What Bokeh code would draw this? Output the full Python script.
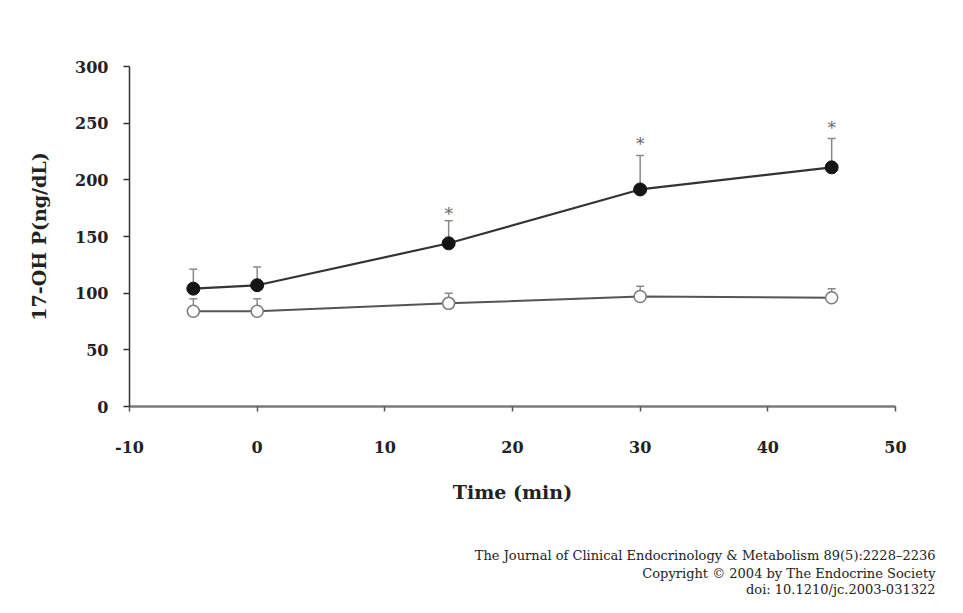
from bokeh.plotting import figure
from bokeh.models import ColumnDataSource, Whisker, TeeHead, Title, FixedTicker, Range1d
from bokeh.core.properties import value
from bokeh.embed import file_html
from bokeh.resources import INLINE

# Data
time = [-5, 0, 15, 30, 45]
stim_mean = [104, 107, 144, 191.5, 211]
stim_upper = [121, 123, 164, 221.5, 236.5]
ctrl_mean = [84, 84, 91, 97, 96]
ctrl_upper = [95, 95, 100, 106, 104]
star_x = [15, 30, 45]
star_y = [170, 232, 246]
x_ticks = [-10, 0, 10, 20, 30, 40, 50]
y_ticks = [0, 50, 100, 150, 200, 250, 300]
footer = [
    "The Journal of Clinical Endocrinology & Metabolism 89(5):2228\u20132236",
    "Copyright \u00a9 2004 by The Endocrine Society",
    "doi: 10.1210/jc.2003-031322",
]

SERIF = "DejaVu Serif"

p = figure(width=947, height=597, output_backend="svg", toolbar_location=None,
           x_range=Range1d(-10, 50), y_range=Range1d(0, 300),
           min_border_left=129, min_border_right=52, min_border_top=66,
           min_border_bottom=10)
p.outline_line_color = None
p.grid.visible = False
p.background_fill_color = "white"
p.border_fill_color = "white"

stim = ColumnDataSource(dict(x=time, y=stim_mean, upper=stim_upper))
ctrl = ColumnDataSource(dict(x=time, y=ctrl_mean, upper=ctrl_upper))

for src in (stim, ctrl):
    w = Whisker(source=src, base="x", lower="y", upper="upper",
                line_color="#8a8a8a", line_width=1.5,
                upper_head=TeeHead(size=8, line_color="#8a8a8a", line_width=1.5),
                lower_head=None)
    p.add_layout(w)

p.line("x", "y", source=ctrl, line_color="#555555", line_width=2)
p.scatter("x", "y", source=ctrl, size=12, fill_color="white",
          line_color="#7a7a7a", line_width=1.5)
p.line("x", "y", source=stim, line_color="#333333", line_width=2.2)
p.scatter("x", "y", source=stim, size=13, fill_color="#151515",
          line_color="#151515")

p.text(x=star_x, y=star_y, text=["*"] * len(star_x), text_font=value(SERIF),
       text_font_size="17px", text_color="#666666", text_align="center",
       text_baseline="middle")

# axes
p.xaxis.ticker = FixedTicker(ticks=x_ticks)
p.yaxis.ticker = FixedTicker(ticks=y_ticks)
p.xaxis.major_label_overrides = {t: str(t) for t in x_ticks}
for ax in (p.xaxis[0], p.yaxis[0]):
    ax.minor_tick_line_color = None
    ax.major_tick_in = 0
    ax.major_label_text_font = SERIF
    ax.major_label_text_font_style = "bold"
    ax.major_label_text_font_size = "16px"
    ax.major_label_text_color = "#222222"
    ax.axis_label_text_font = SERIF
    ax.axis_label_text_font_style = "bold"
    ax.axis_label_text_color = "#222222"

p.xaxis.axis_line_color = "#7a7a7a"
p.xaxis.axis_line_width = 2.5
p.xaxis.major_tick_line_color = "#555555"
p.xaxis.major_tick_line_width = 1.5
p.xaxis.major_tick_out = 5
p.xaxis.major_label_standoff = 29
p.xaxis.axis_label = "Time (min)"
p.xaxis.axis_label_text_font_size = "19px"
p.xaxis.axis_label_standoff = 25

p.yaxis.axis_line_color = "#333333"
p.yaxis.axis_line_width = 1.5
p.yaxis.major_tick_line_color = "#333333"
p.yaxis.major_tick_line_width = 1.5
p.yaxis.major_tick_out = 6
p.yaxis.major_label_standoff = 15
p.yaxis.axis_label = "17-OH P(ng/dL)"
p.yaxis.axis_label_text_font_size = "19px"
p.yaxis.axis_label_standoff = 22

# spacer between axis label and footer
p.add_layout(Title(text=" ", text_font=SERIF, text_font_size="13px",
                   standoff=21.3), "below")
standoffs = [5, -4, 2]
for txt, so in zip(footer, standoffs):
    t = Title(text=txt, align="right", text_font=SERIF, text_font_size="13px",
              text_font_style="normal", text_color="#222222", standoff=so,
              offset=-40)
    p.add_layout(t, "below")

open("out.html", "w").write(file_html(p, INLINE))
